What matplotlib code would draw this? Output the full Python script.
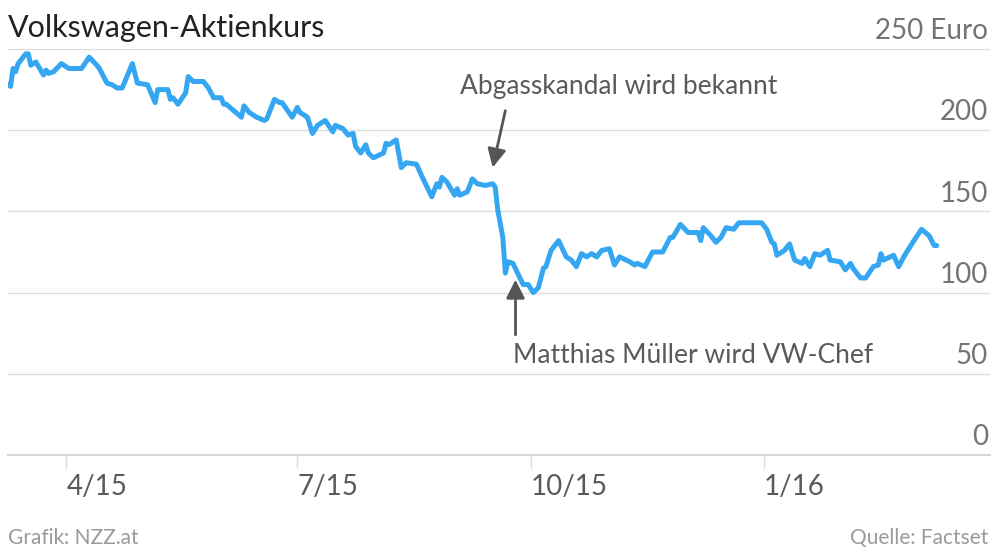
import numpy as np
import matplotlib
matplotlib.use("Agg")
import matplotlib.pyplot as plt
import matplotlib.transforms as mtransforms

plt.rcParams['font.family'] = ['Lato', 'DejaVu Sans']

# Volkswagen share price (Euro); days counted from 9 March 2015
start = np.datetime64('2015-03-09')
days = [0, 1, 2, 3, 4, 7, 8, 9, 11, 14, 15, 16, 18, 21, 24, 29, 32, 35, 36, 39,
        41, 43, 45, 49, 51, 55, 58, 59, 63, 64, 65, 67, 70, 71, 73, 77, 78, 79, 81, 84,
        85, 86, 92, 93, 95, 98, 101, 102, 105, 107, 108, 112, 114, 115, 118, 120, 122, 125, 128, 129,
        132, 134, 136, 137, 139, 141, 142, 144, 148, 149, 150, 153, 155, 157, 161, 163, 167, 169, 170, 171,
        173, 176, 177, 178, 181, 183, 185, 188, 191, 192, 193, 195, 196, 197, 199, 203, 205, 207, 209, 211,
        212, 214, 217, 220, 222, 224, 226, 228, 230, 232, 234, 237, 239, 241, 245, 247, 248, 251, 254, 258,
        261, 262, 265, 268, 271, 272, 273, 274, 277, 279, 281, 283, 286, 288, 292, 294, 297, 299, 301, 302,
        303, 306, 308, 310, 313, 314, 316, 318, 320, 323, 324, 328, 330, 332, 333, 336, 338, 341, 343, 344,
        345, 349, 351, 353, 357, 360, 363, 365, 366]
price = [228, 227, 238, 236, 241, 247, 247, 240, 242, 234, 237, 235, 236, 241, 238, 238, 245, 240, 238, 229,
         228, 226, 226, 241, 229, 228, 217, 225, 225, 219, 220, 216, 223, 233, 230, 230, 228, 226, 220, 220,
         216, 216, 208, 215, 211, 208, 206, 207, 219, 217, 217, 208, 214, 211, 208, 198, 203, 206, 199, 203,
         201, 197, 198, 190, 186, 191, 186, 183, 186, 192, 191, 194, 177, 180, 179, 172, 159, 167, 165, 171,
         168, 160, 164, 160, 162, 170, 167, 166, 167, 165, 151, 134, 112, 119, 118, 105, 105, 100, 103, 115,
         116, 126, 132, 122, 120, 116, 124, 122, 124, 122, 126, 127, 117, 122, 119, 117, 118, 116, 125, 125,
         134, 134, 142, 137, 137, 137, 132, 140, 135, 131, 134, 140, 139, 143, 143, 143, 143, 139, 131, 130,
         123, 126, 130, 120, 118, 121, 116, 124, 123, 126, 120, 119, 114, 118, 115, 109, 109, 116, 117, 124,
         120, 123, 116, 122, 132, 139, 135, 129, 129]
dates = start + np.array(days, dtype='timedelta64[D]')

yticks = [0, 50, 100, 150, 200, 250]
ylabels = ['0', '50', '100', '150', '200', '250 Euro']
xticks = ['2015-04-01', '2015-07-01', '2015-10-01', '2016-01-01']
xlabels = ['4/15', '7/15', '10/15', '1/16']


def day(n):
    return start + np.timedelta64(n, 'D')


fig = plt.figure(figsize=(10, 5.5), dpi=100)
ax = fig.add_axes([0.008, 0.1727, 0.982, 0.7382])

for v in yticks[1:]:
    ax.axhline(v, color='#dddddd', lw=1, zorder=1)

ax.plot(dates, price, color='#35a7f2', lw=3.6, solid_joinstyle='round',
        solid_capstyle='round', zorder=3)

ax.set_ylim(0, 250)
ax.set_xlim(start, day(387))

ax.set_yticks([])
ax.set_xticks([np.datetime64(d) for d in xticks])
ax.set_xticklabels(xlabels, ha='left', fontsize=20, color='#5a5a5a')
ax.tick_params(axis='x', length=9, width=1, color='#dddddd', pad=5)

for s in ['top', 'left', 'right']:
    ax.spines[s].set_visible(False)
ax.spines['bottom'].set_color('#d6d6d6')
ax.spines['bottom'].set_linewidth(1.5)

trans = mtransforms.blended_transform_factory(ax.transAxes, ax.transData)
for v, lab in zip(yticks, ylabels):
    ax.text(0.998, v + 3, lab, transform=trans, ha='right', va='bottom',
            fontsize=20, color='#747474')

fig.text(0.008, 0.975, 'Volkswagen-Aktienkurs', ha='left', va='top',
         fontsize=22, color='#222222')
fig.text(0.008, 0.004, 'Grafik: NZZ.at', ha='left', va='bottom',
         fontsize=15, color='#9a9a9a')
fig.text(0.988, 0.004, 'Quelle: Factset', ha='right', va='bottom',
         fontsize=15, color='#9a9a9a')

arrow = dict(arrowstyle='-|>', color='#555555', lw=2, mutation_scale=28,
             shrinkA=0, shrinkB=0)
ax.text(day(178), 219, 'Abgasskandal wird bekannt', fontsize=19, color='#5a5a5a',
        ha='left', va='bottom')
ax.annotate('', xy=(day(191), 177), xytext=(day(196), 212), arrowprops=arrow)
ax.annotate('', xy=(day(200), 108), xytext=(day(200), 74), arrowprops=arrow)
ax.text(day(199), 69, 'Matthias Müller wird VW-Chef',
        fontsize=19, color='#5a5a5a', ha='left', va='top')

fig.savefig('out.png', dpi=100)
